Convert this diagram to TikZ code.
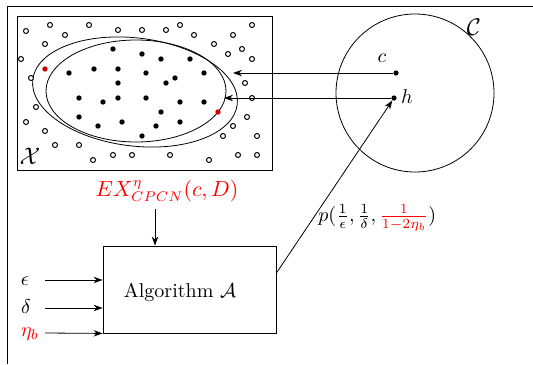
\documentclass[tikz,border=0pt]{standalone}
\usepackage{amsmath}
\usepackage{amssymb}
\usetikzlibrary{arrows.meta, positioning}

\begin{document}
\begin{tikzpicture}[
    x=0.5pt, y=-0.5pt,
    arr/.style={-{Stealth[length=4.5pt, width=3.2pt]}},
    pt/.style={circle, fill=black, inner sep=0pt, minimum size=2.6pt},
    algobox/.style={draw, minimum width=86.5pt, minimum height=43.5pt, inner sep=0pt},
  ]

  \useasboundingbox (0,0) rectangle (533,364);

  % --- outer frame ---
  \draw (7,364) -- (7,6) -- (533,6);

  % --- instance space X ---
  \draw (17,16) rectangle (272,170);
  \node[font=\large] (xlab) at (30,156) {$\mathcal{X}$};

  % --- concept and hypothesis ---
  \draw (136,91) ellipse [x radius=90, y radius=51];
  \draw[rotate around={-7:(135,92)}] (135,92) ellipse [x radius=103, y radius=54];

  % --- negative points ---
  \foreach \x/\y in {26/31, 50/25, 65/35, 89/25, 118/30, 142/30, 166/30, 180/25,
      194/35, 252/25, 233/35, 45/44, 214/44, 228/54, 242/49, 252/59, 21/59, 31/78,
      245/83, 252/98, 36/107, 26/122, 247/117, 45/131, 233/126, 223/136, 257/136,
      55/145, 79/145, 113/155, 132/155, 93/160, 170/155, 209/160, 238/155, 257/155} {
    \draw[fill=white, line width=0.5pt] (\x,\y) circle [radius=2.5];
  }

  % --- positive points ---
  \foreach \x/\y in {113/49, 142/54, 161/59, 190/59, 69/73, 94/69, 118/69, 146/73,
      204/73, 118/83, 166/83, 175/78, 79/98, 103/102, 118/98, 146/98, 180/102,
      204/102, 79/117, 161/112, 98/126, 122/122, 156/126, 180/122, 142/136} {
    \fill (\x,\y) circle [radius=2.7];
  }

  % --- noisy points ---
  \fill[red!80!black] (45,69) circle [radius=2.7];
  \fill[red!80!black] (218,112) circle [radius=2.7];

  % --- concept class C ---
  \draw (415,93) circle [radius=79];
  \node[font=\large] (clab) at (474,27) {$\mathcal{C}$};
  \node[pt] (c) at (396,73) {};
  \node[pt] (h) at (394,98) {};
  \node (clabel) at (382,58) {$c$};
  \node (hlabel) at (407,97) {$h$};

  \coordinate (hitc) at (233,73);
  \coordinate (hith) at (224,98);
  \draw[arr] (c) -- (hitc);
  \draw[arr] (h) -- (hith);

  % --- algorithm ---
  \node[algobox] (algo) at (189.5,289.5) {};
  \node (algotext) at (180,292) {Algorithm $\mathcal{A}$};

  \node[text=red, font=\fontsize{10.5pt}{12pt}\selectfont] (ex) at (167,191) {$EX^{\eta}_{CPCN}(c,D)$};
  \draw[arr] ([xshift=-6pt]ex.south) -- ([xshift=-6pt]ex.south |- algo.north);

  % --- inputs ---
  \coordinate (instart) at (45,0);
  \node (eps) at (25,281) {$\epsilon$};
  \node (del) at (26,307) {$\delta$};
  \node[text=red] (etab) at (30,334) {$\eta_b$};
  \draw[arr] (instart |- 0,280) -- (algo.west |- 0,280);
  \draw[arr] (instart |- 0,308) -- (algo.west |- 0,308);
  \draw[arr] (instart |- 0,333) -- (algo.south west);

  % --- output ---
  \draw[arr] ([yshift=8.25pt]algo.east) -- (h);
  \node[anchor=west, inner sep=0pt] (plab) at (318,218)
    {$p(\frac{1}{\epsilon},\frac{1}{\delta},{\color{red}\frac{1}{1-2\eta_b}})$};

\end{tikzpicture}
\end{document}
